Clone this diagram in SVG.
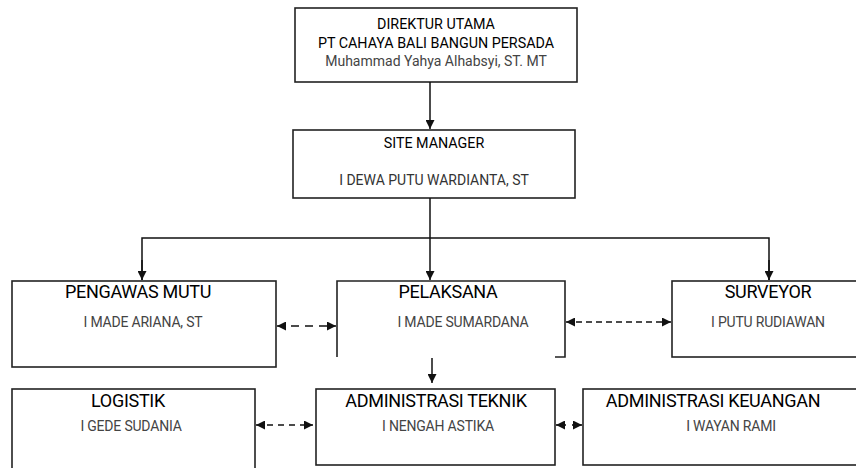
<svg xmlns="http://www.w3.org/2000/svg" width="856" height="468" viewBox="0 0 856 468">
<defs>
<marker id="ah" viewBox="0 0 10 10" refX="10" refY="5" markerWidth="9" markerHeight="9" markerUnits="userSpaceOnUse" orient="auto-start-reverse">
<path d="M0,0 L10,5 L0,10 z" fill="#111"/>
</marker>
<style>
.box{fill:#fff;stroke:#222;stroke-width:1.6}
.ln{fill:none;stroke:#111;stroke-width:1.5}
.ds{fill:none;stroke:#111;stroke-width:1.6}
.t{font-family:Roboto,"Liberation Sans",sans-serif;text-anchor:middle}
.top{font-size:14.3px;fill:#000}
.topn{font-size:14px;fill:#444}
.h{font-size:18px;fill:#000;letter-spacing:-0.3px}
.n{font-size:14px;fill:#444;letter-spacing:-0.2px}
</style>
</defs>
<rect width="856" height="468" fill="#fff"/>
<g id="direktur">
<rect class="box" x="295" y="8" width="282" height="74"/>
<text class="t top" x="436" y="29">DIREKTUR UTAMA</text>
<text class="t top" x="436" y="48">PT CAHAYA BALI BANGUN PERSADA</text>
<text class="t topn" x="436" y="66">Muhammad Yahya Alhabsyi, ST. MT</text>
</g>
<g id="site-manager">
<rect class="box" x="293" y="130" width="282" height="68"/>
<text class="t top" x="434" y="148">SITE MANAGER</text>
<text class="t topn" x="434" y="185" style="fill:#333">I DEWA PUTU WARDIANTA, ST</text>
</g>
<g id="pengawas-mutu">
<rect class="box" x="12" y="281" width="264" height="86"/>
<text class="t h" x="138" y="298">PENGAWAS MUTU</text>
<text class="t n" x="143" y="327">I MADE ARIANA, ST</text>
</g>
<g id="pelaksana">
<path class="box" style="fill:none" d="M337,357 V281 H565 V357 H555"/>
<text class="t h" x="448" y="298">PELAKSANA</text>
<text class="t n" x="463" y="327">I MADE SUMARDANA</text>
</g>
<g id="surveyor">
<rect class="box" x="672" y="281" width="190" height="76"/>
<text class="t h" x="768" y="298">SURVEYOR</text>
<text class="t n" x="768" y="327">I PUTU RUDIAWAN</text>
</g>
<g id="logistik">
<rect class="box" x="12" y="389" width="243" height="90"/>
<text class="t h" x="128" y="407">LOGISTIK</text>
<text class="t n" x="131" y="431">I GEDE SUDANIA</text>
</g>
<g id="administrasi-teknik">
<rect class="box" x="316" y="389" width="239" height="76"/>
<text class="t h" x="436" y="407">ADMINISTRASI TEKNIK</text>
<text class="t n" x="438" y="431">I NENGAH ASTIKA</text>
</g>
<g id="administrasi-keuangan">
<rect class="box" x="583" y="389" width="280" height="76"/>
<text class="t h" x="713" y="407">ADMINISTRASI KEUANGAN</text>
<text class="t n" x="731" y="431">I WAYAN RAMI</text>
</g>
<g id="connectors">
<line class="ln" x1="430" y1="82" x2="430" y2="129" marker-end="url(#ah)"/>
<line class="ln" x1="430" y1="198" x2="430" y2="280" marker-end="url(#ah)"/>
<path class="ln" d="M142,280 V238 H769 V280" />
<line class="ln" x1="142" y1="260" x2="142" y2="280" marker-end="url(#ah)"/>
<line class="ln" x1="769" y1="260" x2="769" y2="280" marker-end="url(#ah)"/>
<line class="ln" x1="432" y1="358" x2="432" y2="383" marker-end="url(#ah)"/>
<line class="ds" x1="277" y1="326" x2="336" y2="326" stroke-dasharray="8 6" marker-start="url(#ah)" marker-end="url(#ah)"/>
<line class="ds" x1="566" y1="322" x2="671" y2="322" stroke-dasharray="6 4" marker-start="url(#ah)" marker-end="url(#ah)"/>
<line class="ds" x1="256" y1="425" x2="313" y2="425" stroke-dasharray="6 5" marker-start="url(#ah)" marker-end="url(#ah)"/>
<line class="ds" x1="556" y1="425" x2="566" y2="425" marker-start="url(#ah)"/>
<line class="ds" x1="572" y1="425" x2="582" y2="425" marker-end="url(#ah)"/>
</g>
</svg>
